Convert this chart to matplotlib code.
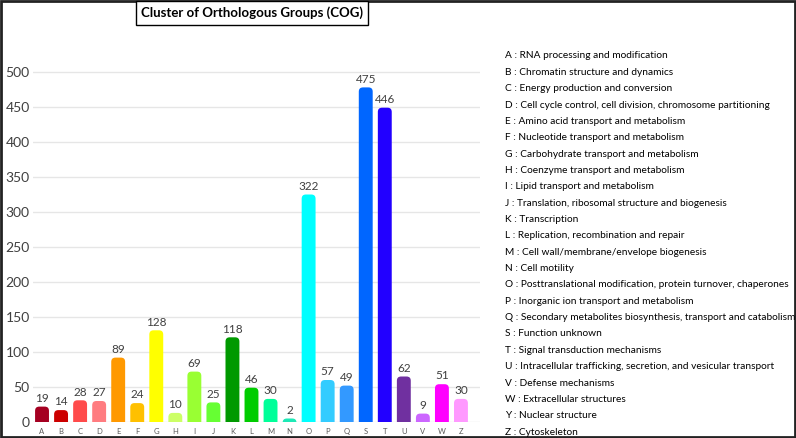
import matplotlib
matplotlib.use("Agg")
import matplotlib.pyplot as plt
from matplotlib.patches import FancyBboxPatch, Rectangle

# dados do gráfico
categorias = ["A", "B", "C", "D", "E", "F", "G", "H", "I", "J", "K", "L",
              "M", "N", "O", "P", "Q", "S", "T", "U", "V", "W", "Z"]
valores = [19, 14, 28, 27, 89, 24, 128, 10, 69, 25, 118, 46,
           30, 2, 322, 57, 49, 475, 446, 62, 9, 51, 30]
cores = ["#a50021", "#cc0000", "#ff4b4b", "#ff7c80", "#ff9900", "#ffc000",
         "#ffff00", "#ccff66", "#99ff33", "#66ff33", "#009900", "#00cc00",
         "#00ff99", "#1de9b6", "#00ffff", "#33ccff", "#3399ff", "#0066ff",
         "#2200ff", "#7030a0", "#cc66ff", "#ff00ff", "#ff99ff"]

legenda = [
    "A : RNA processing and modification",
    "B : Chromatin structure and dynamics",
    "C : Energy production and conversion",
    "D : Cell cycle control, cell division, chromosome partitioning",
    "E : Amino acid transport and metabolism",
    "F : Nucleotide transport and metabolism",
    "G : Carbohydrate transport and metabolism",
    "H : Coenzyme transport and metabolism",
    "I : Lipid transport and metabolism",
    "J : Translation, ribosomal structure and biogenesis",
    "K : Transcription",
    "L : Replication, recombination and repair",
    "M : Cell wall/membrane/envelope biogenesis",
    "N : Cell motility",
    "O : Posttranslational modification, protein turnover, chaperones",
    "P : Inorganic ion transport and metabolism",
    "Q : Secondary metabolites biosynthesis, transport and catabolism",
    "S : Function unknown",
    "T : Signal transduction mechanisms",
    "U : Intracellular trafficking, secretion, and vesicular transport",
    "V : Defense mechanisms",
    "W : Extracellular structures",
    "Y : Nuclear structure",
    "Z : Cytoskeleton",
]

fonte = "Lato"
plt.rcParams["font.family"] = [fonte, "DejaVu Sans"]

W, H = 796, 438
fig = plt.figure(figsize=(W / 100, H / 100), dpi=100)
ax = fig.add_axes([32.5 / W, 16 / H, 447.5 / W, 364 / H])

x = list(range(len(categorias)))
largura = 0.73
barras = ax.bar(x, valores, width=largura, color=cores, zorder=2)

# trocar os retângulos por barras com topo arredondado
aspecto = (520 / 364) / (23.5 / 447.5)
for b, c in zip(barras, cores):
    b.set_visible(False)
    bx, bw, bh = b.get_x(), b.get_width(), b.get_height()
    p = FancyBboxPatch((bx, -20), bw, bh + 20 + 3,
                       boxstyle="round,pad=0,rounding_size=0.22",
                       mutation_aspect=aspecto, facecolor=c,
                       edgecolor="none", zorder=2)
    ax.add_patch(p)
    ax.annotate(str(int(bh)), (bx + bw / 2, bh + 3), xytext=(0, 2),
                textcoords="offset points", ha="center", va="bottom",
                fontsize=8.5, color="#404040")

ax.set_xlim(-0.5, 23.0)
ax.set_ylim(0, 520)
ax.set_yticks(range(0, 501, 50))
ax.set_xticks(x)
ax.set_xticklabels(categorias, fontsize=5.5, color="#595959")
ax.tick_params(axis="y", length=0, pad=2, labelsize=10, labelcolor="#404040")
ax.tick_params(axis="x", length=0, pad=4)
ax.grid(axis="y", color="#e6e6e6", linewidth=1, zorder=0)
ax.set_axisbelow(True)
for s in ax.spines.values():
    s.set_visible(False)

# título com caixa
fig.text(252 / W, 1 - 13 / H, "Cluster of Orthologous Groups (COG)",
         ha="center", va="center", fontsize=9.5, fontweight="bold",
         bbox=dict(boxstyle="square,pad=0.4", facecolor="white",
                   edgecolor="black", linewidth=1))

# legenda em texto
y0, passo = 56, 16.35
for i, txt in enumerate(legenda):
    fig.text(505 / W, 1 - (y0 + i * passo) / H, txt, ha="left", va="center",
             fontsize=7.3, color="black")

# moldura externa
fig.add_artist(Rectangle((0.0015, 0.003), 0.997, 0.995, transform=fig.transFigure,
                         fill=False, edgecolor="#222222", linewidth=2))

fig.savefig("out.png", dpi=100)
